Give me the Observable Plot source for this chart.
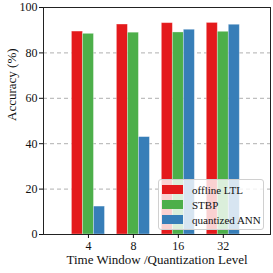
<!DOCTYPE html>
<html><head><meta charset="utf-8">
<script src="https://cdn.jsdelivr.net/npm/d3@7"></script>
<script src="https://cdn.jsdelivr.net/npm/@observablehq/plot@0.6"></script>
<style>
body{margin:0;background:#fff;}
#wrap{position:relative;width:273px;height:273px;font-family:"Liberation Serif","Times New Roman",Times,serif;}
#legend{position:absolute;left:158px;top:179px;width:106px;height:51px;border:1px solid #d0d0d0;border-radius:3px;background:rgba(255,255,255,0.8);font-size:11px;color:#111;box-sizing:border-box;padding:2px 0 0 3px;white-space:nowrap;}
.it{display:flex;align-items:center;height:15px;}
.sw{width:21px;height:9px;margin-right:9px;flex:none;}
</style></head>
<body><div id="wrap"><div id="legend"></div></div>
<script>
const groups = ["4", "8", "16", "32"];
const series = ["offline LTL", "STBP", "quantized ANN"];
const colors = ["#e41a1c", "#4daf4a", "#377eb8"];
const offlineLTL = [89.4, 92.5, 93.1, 93.2];
const stbp = [88.4, 88.9, 89.0, 89.3];
const quantizedANN = [12.3, 42.9, 90.2, 92.4];
const yTicks = [0, 20, 40, 60, 80, 100];
const xLabel = "Time Window /Quantization Level";
const yLabel = "Accuracy (%)";

const vals = [offlineLTL, stbp, quantizedANN];
const data = [];
const w = 0.245;
vals.forEach((arr, si) => arr.forEach((v, gi) => {
  const c = gi + 1 + (si - 1) * w;
  data.push({series: series[si], x1: c - w / 2, x2: c + w / 2, value: v});
}));

const ff = "Liberation Serif, Times New Roman, Times, serif";
const chart = Plot.plot({
  width: 273, height: 273,
  marginLeft: 43, marginRight: 3, marginTop: 7, marginBottom: 39,
  style: {fontFamily: ff, fontSize: "12px", color: "#111", background: "transparent"},
  x: {type: "linear", domain: [0, 5.05]},
  y: {domain: [0, 100]},
  color: {domain: series, range: colors},
  marks: [
    Plot.gridY([20, 40, 60, 80], {stroke: "#b0b0b0", strokeOpacity: 1, strokeDasharray: "4,3"}),
    Plot.rectY(data, {x1: "x1", x2: "x2", y: "value", fill: "series", stroke: "white", strokeOpacity: 0.4, strokeWidth: 0.8}),
    Plot.frame({stroke: "#222", strokeWidth: 1}),
    Plot.axisY({ticks: yTicks, tickSize: 4, fontSize: 12, label: null, tickPadding: 2}),
    Plot.axisX({ticks: [1, 2, 3, 4], tickFormat: d => groups[d - 1], tickSize: 4, fontSize: 12, label: null, tickPadding: 3}),
    Plot.text([yLabel], {text: d => d, frameAnchor: "left", dx: -32, rotate: -90, fontSize: 13, fontFamily: ff, fill: "#111"}),
    Plot.text([xLabel], {text: d => d, frameAnchor: "bottom", dy: 29, fontSize: 13, fontFamily: ff, fill: "#111"})
  ]
});
document.getElementById("wrap").prepend(chart);

const lg = document.getElementById("legend");
series.forEach((s, i) => {
  const d = document.createElement("div"); d.className = "it";
  d.innerHTML = `<span class="sw" style="background:${colors[i]}"></span><span>${s}</span>`;
  lg.appendChild(d);
});
</script></body></html>
